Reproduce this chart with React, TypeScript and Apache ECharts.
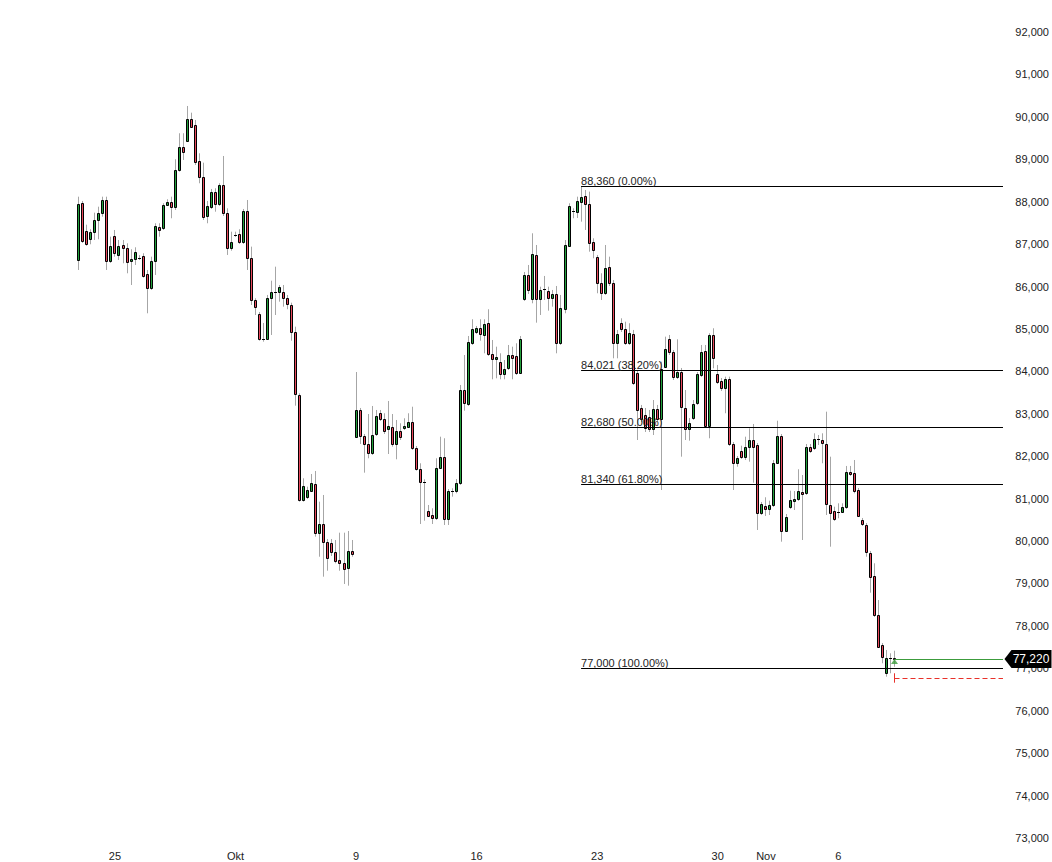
import React, { useEffect, useRef } from "react";
import * as echarts from "echarts";

// ---- data ----
const opens = [
  86626, 87962, 87302, 87114, 87279, 87569, 87741, 88040, 86609, 87192,
  86751, 86979, 86902, 86595, 86641, 86680, 86720, 86289, 85973, 86609,
  87397, 87373, 87930, 87986, 87868, 88747, 89283, 89438, 89950, 89808,
  88960, 88575, 87670, 87868, 88222, 87953, 88394, 87727, 86902, 87215,
  87232, 87043, 87774, 86666, 85683, 85346, 84756, 84756, 85723, 85864,
  85864, 85864, 85723, 85565, 84921, 83443, 80968, 81032, 81187, 81345,
  80183, 80395, 79985, 79961, 79735, 79553, 79476, 79358, 79766, 82446,
  83090, 82470, 82281, 82069, 82517, 83026, 82871, 82635, 82682, 82281,
  82595, 82658, 82696, 82800, 82187, 81692, 81400, 80709, 80614, 80537,
  81715, 81989, 80513, 81180, 81180, 81362, 83561, 83224, 84662, 84921,
  85016, 84858, 85134, 84403, 84285, 84228, 83931, 84073, 84386, 84370,
  83969, 85714, 86272, 85714, 86744, 85699, 85949, 85895, 85737, 85817,
  84662, 85464, 86956, 87781, 87764, 88000, 88135, 87953, 87043, 86689,
  86077, 85855, 86454, 86077, 84676, 85148, 84992, 84676, 84881, 83969,
  83130, 82972, 82932, 82635, 83106, 82871, 84110, 84756, 84450, 83875,
  83993, 83130, 82635, 82894, 83248, 83915, 84488, 82712, 84858, 83938,
  83773, 83601, 83813, 82288, 81833, 82123, 81989, 82225, 82382, 82265,
  80669, 80827, 80749, 80850, 81847, 82477, 80244, 80796, 80952, 80984,
  81164, 81126, 82225, 82187, 82399, 82382, 82288, 80850, 80709, 80692,
  80692, 80796, 81621, 81597, 81204, 80497, 80379, 79712, 79176, 78257,
  77550, 76883, 77250, 77250,
];
const closes = [
  87946, 87081, 86996, 87279, 87569, 87741, 88040, 86609, 86956, 86784,
  86956, 86902, 86586, 86649, 86814, 86680, 86256, 85973, 86609, 87427,
  87340, 87922, 87986, 87868, 88747, 89283, 89179, 89950, 89768, 88929,
  88590, 87647, 87906, 88222, 87953, 88394, 87727, 86902, 87043, 87215,
  87043, 87774, 86666, 85683, 85525, 84756, 84756, 85723, 85864, 85864,
  85982, 85723, 85582, 84921, 83460, 80968, 81298, 81204, 81362, 80183,
  80395, 79985, 79594, 79735, 79537, 79476, 79334, 79773, 79688, 83090,
  82484, 82281, 82069, 82493, 82948, 82871, 82602, 82712, 82288, 82595,
  82446, 82712, 82800, 82187, 81692, 81400, 81400, 80598, 80551, 81715,
  81989, 80513, 81180, 81180, 81362, 83561, 83248, 84700, 84992, 85016,
  84874, 85117, 84410, 84285, 84332, 83931, 84049, 84386, 84323, 83969,
  84763, 86272, 85919, 86767, 85714, 85919, 85949, 85737, 85817, 84676,
  85487, 86979, 87899, 87781, 88005, 88111, 87946, 87019, 86862, 86077,
  85855, 86430, 86077, 84662, 84881, 84992, 84676, 84898, 83719, 83090,
  82871, 82665, 82635, 83106, 82871, 84049, 84521, 84450, 83875, 83993,
  83153, 82635, 82790, 83231, 83931, 84464, 82712, 84858, 84308, 83757,
  83601, 83813, 82288, 81833, 81951, 81989, 82225, 82382, 82225, 80654,
  80867, 80756, 80850, 81847, 82477, 80244, 80574, 80968, 80999, 81187,
  81102, 82225, 82130, 82399, 82399, 82305, 80874, 80669, 80513, 80692,
  80810, 81621, 81574, 81187, 80598, 80395, 79735, 79160, 78257, 77510,
  77274, 77250, 77250, 77220,
];
const lows = [
  86390, 87027, 86960, 86996, 87097, 87114, 87647, 86390, 86555, 86704,
  86626, 86548, 86312, 86036, 86508, 86626, 86209, 85369, 85919, 86272,
  87175, 87333, 87898, 87609, 87804, 88707, 88983, 89407, 89737, 88865,
  88434, 87569, 87491, 87828, 87764, 87898, 87663, 86744, 86845, 87168,
  87003, 87003, 86390, 85565, 85329, 84723, 84700, 84740, 84858, 85329,
  85643, 85525, 85464, 84723, 83191, 80928, 80928, 80992, 81157, 80103,
  79631, 79160, 79301, 79648, 79476, 79301, 78988, 78948, 79631, 82430,
  82288, 81612, 81951, 82029, 82477, 82830, 82524, 82052, 82225, 81927,
  82382, 82618, 82665, 82147, 81659, 80402, 80480, 80567, 80402, 80496,
  81699, 80379, 80379, 81046, 81126, 81322, 83073, 83184, 84622, 84882,
  84723, 84426, 84363, 83813, 83837, 83813, 83813, 84033, 83813, 83915,
  83939, 85659, 85824, 85605, 85148, 85329, 85683, 85431, 85525, 84426,
  84622, 85369, 86932, 87609, 87616, 87529, 87333, 86821, 86666, 85841,
  85683, 85801, 86013, 84308, 84308, 84929, 84622, 84622, 83679, 82382,
  82807, 82571, 82571, 82500, 82807, 81204, 84080, 84386, 83797, 83820,
  81989, 82382, 82366, 82854, 83208, 83868, 82665, 82423, 84073, 83703,
  83538, 83012, 82241, 81204, 81753, 81935, 81911, 81871, 81376, 80261,
  80614, 80591, 80614, 80803, 81817, 79985, 80213, 80756, 80732, 80945,
  80025, 81086, 82076, 82147, 82264, 81833, 80614, 79867, 80473, 80537,
  80661, 80756, 81533, 81126, 80567, 80355, 79631, 78783, 78210, 77479,
  77118, 76803, 76883, 77038,
];
const highs = [
  88118, 88017, 87458, 87350, 87741, 87882, 88118, 88118, 87175, 87333,
  87097, 87097, 87019, 86878, 86925, 86740, 86784, 86390, 86704, 87491,
  87491, 87962, 88057, 88118, 89000, 89613, 89613, 90256, 90098, 89926,
  89141, 88920, 88017, 88300, 88316, 88434, 89077, 87844, 87293, 87293,
  87350, 87828, 88040, 86940, 85723, 85400, 85141, 85801, 86138, 86468,
  86036, 86036, 85801, 85619, 85054, 83483, 81480, 81282, 81581, 81652,
  80928, 81086, 80049, 80049, 80025, 80197, 80197, 80237, 80025, 83985,
  83137, 82524, 82995, 83184, 83090, 83090, 83012, 83302, 82995, 82854,
  82776, 82894, 83012, 83167, 82241, 81833, 81456, 80850, 80772, 81951,
  82460, 82423, 81227, 81244, 81463, 83679, 84386, 84834, 85228, 85070,
  85228, 85228, 85464, 84740, 84582, 84426, 84268, 84622, 84582, 84662,
  84834, 86343, 86508, 87255, 86979, 85996, 86249, 85996, 85919, 86013,
  85801, 87097, 87962, 87844, 88118, 88360, 88276, 88237, 87137, 86744,
  86312, 86979, 86704, 86154, 84976, 85251, 85171, 85134, 84976, 84033,
  83208, 83137, 83090, 83325, 83208, 84228, 84818, 84858, 84504, 84756,
  84080, 83561, 82900, 83325, 83985, 84622, 84622, 84898, 85016, 84150,
  83844, 83875, 83875, 82335, 82005, 82248, 82460, 82658, 82760, 82311,
  80921, 81032, 80952, 81911, 82837, 82524, 80638, 81187, 81180, 81692,
  81557, 82288, 82288, 82540, 82500, 82540, 83050, 81989, 80810, 80890,
  80890, 81770, 81770, 81911, 81251, 80544, 80426, 79766, 79476, 78610,
  77597, 77432, 77354, 77415,
];

const slotCount = 231;
const tickIndex = [9, 39, 69, 99, 129, 159, 171, 189];
const tickLabels = ["25", "Okt", "9", "16", "23", "30", "Nov", "6"];

const yMin = 73000;
const yMax = 92000;
const yStep = 1000;

const fibStart = 125;
const fibLevels = [88360, 84021, 82680, 81340, 77000];
const fibLabels = [
  "88,360 (0.00%)",
  "84,021 (38.20%)",
  "82,680 (50.00%)",
  "81,340 (61.80%)",
  "77,000 (100.00%)",
];

const lastIndex = 203;
const lastPrice = 77220;
const lastPriceLabel = "77,220";
const stopLevel = 76770;
const stopTickTop = 76883;
const stopTickBottom = 76661;
const signalValue = 77161;

const GREEN = "#22a03c";
const RED = "#e8485c";
const WICK = "#a6a6a6";
const FONT = "Liberation Sans, Arial, sans-serif";

const categories = Array.from({ length: slotCount }, (_, i) => String(i));

function fmt(v: number) {
  return String(v).replace(/\B(?=(\d{3})+(?!\d))/g, ",");
}

export default function App() {
  const ref = useRef<HTMLDivElement>(null);

  useEffect(() => {
    if (!ref.current) return;
    const chart = echarts.init(ref.current, null, { renderer: "svg" });

    const candleData = opens.map((o, i) => [i, o, closes[i], lows[i], highs[i]]);
    const lastSlot = slotCount - 1;

    const fibLines = fibLevels.map((v, k) => [
      { name: fibLabels[k], coord: [fibStart, v] },
      { coord: [lastSlot, v] },
    ]);

    const option: any = {
      animation: false,
      backgroundColor: "#ffffff",
      grid: { left: 76.8, right: 46, top: 32, bottom: 24 },
      xAxis: {
        type: "category",
        data: categories,
        boundaryGap: true,
        axisLine: { show: false },
        axisTick: { show: false },
        splitLine: { show: false },
        axisLabel: {
          interval: (idx: number) => tickIndex.indexOf(idx) >= 0,
          formatter: (_v: string, idx: number) => {
            const k = tickIndex.indexOf(idx);
            return k >= 0 ? tickLabels[k] : "";
          },
          margin: 12,
          fontSize: 11,
          color: "#222",
          fontFamily: FONT,
        },
      },
      yAxis: {
        type: "value",
        position: "right",
        min: yMin,
        max: yMax,
        interval: yStep,
        scale: true,
        axisLine: { show: false },
        axisTick: { show: false },
        splitLine: { show: false },
        axisLabel: {
          align: "right",
          margin: 44,
          fontSize: 11,
          color: "#222",
          fontFamily: FONT,
          formatter: (v: number) => fmt(v),
        },
      },
      series: [
        {
          type: "line",
          data: [],
          z: 1,
          silent: true,
          markLine: {
            silent: true,
            symbol: ["none", "none"],
            lineStyle: { color: "#000", width: 1, type: "solid" },
            label: {
              show: true,
              position: "insideStartTop",
              formatter: "{b}",
              distance: 0,
              fontSize: 11,
              color: "#222",
              fontFamily: FONT,
            },
            data: fibLines,
          },
        },
        {
          type: "custom",
          z: 2,
          silent: true,
          data: candleData,
          encode: { x: 0, y: [1, 2, 3, 4] },
          renderItem: (_params: any, api: any) => {
            const i = api.value(0);
            const o = api.value(1);
            const c = api.value(2);
            const l = api.value(3);
            const h = api.value(4);
            const pO = api.coord([i, o]);
            const pC = api.coord([i, c]);
            const pL = api.coord([i, l]);
            const pH = api.coord([i, h]);
            const X = Math.floor(pO[0]) + 0.5;
            const yT = Math.round(Math.min(pO[1], pC[1]));
            const yB = Math.round(Math.max(pO[1], pC[1]));
            const children: any[] = [
              {
                type: "line",
                shape: { x1: X, y1: pH[1], x2: X, y2: pL[1] },
                style: { stroke: WICK, lineWidth: 1 },
              },
            ];
            if (yB - yT < 1) {
              children.push({
                type: "line",
                shape: { x1: X - 1.5, y1: yT + 0.5, x2: X + 1.5, y2: yT + 0.5 },
                style: { stroke: "#000", lineWidth: 1 },
              });
            } else {
              children.push({
                type: "rect",
                shape: { x: X - 1, y: yT + 0.5, width: 2, height: yB - yT },
                style: { fill: c > o ? GREEN : RED, stroke: "#000", lineWidth: 1 },
              });
            }
            return { type: "group", children };
          },
        },
        {
          type: "line",
          data: [],
          z: 3,
          silent: true,
          markLine: {
            silent: true,
            symbol: ["none", "none"],
            label: { show: false },
            data: [
              [
                { coord: [lastIndex, lastPrice], lineStyle: { color: "#3c9c3c", width: 1, type: "solid" } },
                { coord: [lastSlot, lastPrice] },
              ],
              [
                { coord: [lastIndex, stopLevel], lineStyle: { color: "#e8312a", width: 1, type: [5, 3] } },
                { coord: [lastSlot, stopLevel] },
              ],
              [
                { coord: [lastIndex, stopTickTop], lineStyle: { color: "#e8312a", width: 1, type: "solid" } },
                { coord: [lastIndex, stopTickBottom] },
              ],
            ],
          },
        },
        {
          type: "scatter",
          z: 5,
          silent: true,
          data: [[lastIndex, signalValue]],
          symbol: "triangle",
          symbolSize: [7, 5],
          itemStyle: { color: "#3c9c3c" },
          markPoint: {
            silent: true,
            symbol: "path://M0,9 L7,0 L47,0 L47,18 L7,18 Z",
            symbolSize: [47, 18],
            symbolKeepAspect: false,
            symbolOffset: [25, 0],
            itemStyle: { color: "#000" },
            label: {
              show: true,
              position: "inside",
              formatter: lastPriceLabel,
              color: "#fff",
              fontSize: 12,
              fontFamily: FONT,
              offset: [3, 0],
            },
            data: [{ coord: [lastSlot, lastPrice], value: lastPrice }],
          },
        },
      ],
    };

    chart.setOption(option);
    return () => chart.dispose();
  }, []);

  return (
    <div
      ref={ref}
      style={{ position: "fixed", left: 0, top: 0, width: 1052, height: 862, background: "#fff" }}
    />
  );
}
